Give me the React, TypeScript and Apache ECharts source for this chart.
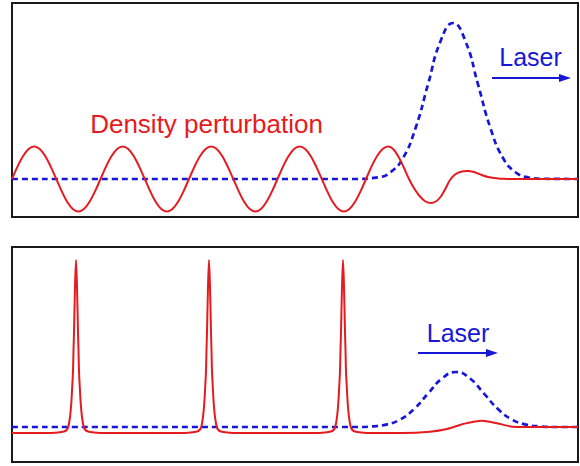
import React, { useEffect, useRef } from "react";
import * as echarts from "echarts";

// x in px from the panel's left border; y in px above the blue (laser) baseline
const X_MAX = 566;

const TOP_RED: [number, number][] = [
  [0, 0], [5.5, 12.4], [11.1, 23], [16.6, 30], [22.1, 32.5], [27.7, 30], [33.2, 23], [38.7, 12.4],
  [44.3, 0], [49.8, -12.4], [55.3, -23], [60.8, -30], [66.4, -32.5], [71.9, -30], [77.4, -23], [83.0, -12.4],
  [88.5, 0], [94.0, 12.4], [99.6, 23], [105.1, 30], [110.6, 32.5], [116.2, 30], [121.7, 23], [127.2, 12.4],
  [132.8, 0], [138.3, -12.4], [143.8, -23], [149.3, -30], [154.9, -32.5], [160.4, -30], [165.9, -23], [171.5, -12.4],
  [177.0, 0], [182.5, 12.4], [188.1, 23], [193.6, 30], [199.1, 32.5], [204.7, 30], [210.2, 23], [215.7, 12.4],
  [221.3, 0], [226.8, -12.4], [232.3, -23], [237.8, -30], [243.4, -32.5], [248.9, -30], [254.4, -23], [260.0, -12.4],
  [265.5, 0], [271.0, 12.4], [276.6, 23], [282.1, 30], [287.6, 32.5], [293.2, 30], [298.7, 23], [304.2, 12.4],
  [309.8, 0], [315.3, -12.4], [320.8, -23], [326.3, -30], [331.9, -32.5], [337.4, -30], [342.9, -23], [348.5, -12.4],
  [354.0, 0], [359.5, 12.4], [365.1, 23], [370.6, 30], [376.1, 32.5],
  [381.4, 29.8], [386.6, 22], [391.8, 11.5], [397, 0], [402.5, -10], [408, -17.5], [413.5, -22.5], [419, -24],
  [423.8, -22.5], [428.5, -18], [433.3, -10], [438, -1], [442.5, 4], [447, 6.6], [451.5, 7.8], [456, 8],
  [461, 7.2], [466, 5.5], [471, 3.5], [476, 2], [482, 0.9], [488, 0.3], [494, 0.1], [500, 0], [566, 0],
];

const TOP_BLUE: [number, number][] = [
  [0, 0], [340, 0], [366, 1.7], [378.5, 6.8], [391, 21], [403.5, 50.7], [416, 94.6], [428.5, 137.7],
  [441, 156], [453.5, 137.7], [466, 94.6], [478.5, 50.7], [491, 21], [503.5, 6.8], [516, 1.7],
  [530, 0.3], [566, 0],
];

const BOTTOM_BLUE: [number, number][] = [
  [0, 0], [346, 0], [360, 0.6], [374, 2.4], [388, 7.4], [402, 17.9], [416, 33.4], [430, 48.5],
  [444, 55], [458, 48.5], [472, 33.4], [486, 17.9], [500, 7.4], [514, 2.4], [528, 0.6], [542, 0], [566, 0],
];

const SPIKE_CENTERS = [64, 197, 331];
const SPIKE_PROFILE: [number, number][] = [
  [-30, -6], [-18, -5.5], [-12, -4.5], [-9, -2.5], [-7.5, 1], [-6, 10], [-5, 20], [-4.5, 27], [-4, 36],
  [-3, 56], [-2.5, 77], [-2, 95], [-1, 140], [0, 167], [1, 140], [2, 95], [2.5, 77], [3, 56], [4, 36],
  [4.5, 27], [5, 20], [6, 10], [7.5, 1], [9, -2.5], [12, -4.5], [18, -5.5], [30, -6],
];
const BOTTOM_RED_START: [number, number][] = [[0, -6]];
const BOTTOM_RED_TAIL: [number, number][] = [
  [390, -6], [418, -4.7], [435, -2], [451, 3], [470, 6.3], [485, 3.7], [501, 0.3], [520, 0], [566, 0],
];

const TEXTS = { density: "Density perturbation", laser: "Laser" };

const RED = "#e51b20";
const BLUE = "#1717d6";
const FONT = "'Liberation Sans', Arial, sans-serif";

function buildBottomRed(): [number, number][] {
  const out: [number, number][] = [...BOTTOM_RED_START];
  SPIKE_CENTERS.forEach((c) => {
    SPIKE_PROFILE.forEach(([dx, v]) => out.push([c + dx, v]));
  });
  return out.concat(BOTTOM_RED_TAIL);
}

function arrow(x0: number, x1: number, y: number) {
  return [
    { type: "line", shape: { x1: x0, y1: y, x2: x1 - 8, y2: y }, style: { stroke: BLUE, lineWidth: 2 } },
    { type: "polygon", shape: { points: [[x1 - 12, y - 4], [x1, y], [x1 - 12, y + 4]] }, style: { fill: BLUE } },
  ];
}

export default function App() {
  const ref = useRef<HTMLDivElement>(null);
  useEffect(() => {
    const chart = echarts.init(ref.current!, null, { renderer: "svg" });
    const gridBase = { show: true, borderColor: "#1a1a1a", borderWidth: 2, backgroundColor: "transparent" };
    chart.setOption({
      animation: false,
      backgroundColor: "#ffffff",
      grid: [
        { ...gridBase, left: 12, top: 3, width: 566, height: 214 },
        { ...gridBase, left: 12, top: 247, width: 566, height: 215 },
      ],
      xAxis: [
        { gridIndex: 0, type: "value", min: 0, max: X_MAX, show: false },
        { gridIndex: 1, type: "value", min: 0, max: X_MAX, show: false },
      ],
      yAxis: [
        { gridIndex: 0, type: "value", min: -38, max: 176, show: false },
        { gridIndex: 1, type: "value", min: -35, max: 180, show: false },
      ],
      series: [
        {
          type: "line", xAxisIndex: 0, yAxisIndex: 0, data: TOP_BLUE, smooth: 0.5, symbol: "none",
          lineStyle: { color: BLUE, width: 2.7, type: [6, 4] },
        },
        {
          type: "line", xAxisIndex: 0, yAxisIndex: 0, data: TOP_RED, smooth: 0.35, symbol: "none",
          lineStyle: { color: RED, width: 2 },
        },
        {
          type: "line", xAxisIndex: 1, yAxisIndex: 1, data: BOTTOM_BLUE, smooth: 0.5, symbol: "none",
          lineStyle: { color: BLUE, width: 2.7, type: [6, 4] },
        },
        {
          type: "line", xAxisIndex: 1, yAxisIndex: 1, data: buildBottomRed(), smooth: 0.3, symbol: "none",
          lineStyle: { color: RED, width: 2 },
        },
      ],
      graphic: [
        {
          type: "text", x: 206.5, y: 124,
          style: { text: TEXTS.density, fill: RED, font: `26px ${FONT}`, align: "center", verticalAlign: "middle" },
        },
        {
          type: "text", x: 530.5, y: 57,
          style: { text: TEXTS.laser, fill: BLUE, font: `25px ${FONT}`, align: "center", verticalAlign: "middle" },
        },
        {
          type: "text", x: 458, y: 333,
          style: { text: TEXTS.laser, fill: BLUE, font: `25px ${FONT}`, align: "center", verticalAlign: "middle" },
        },
        ...arrow(492, 571, 78),
        ...arrow(418, 498, 353),
      ],
    });
    return () => chart.dispose();
  }, []);
  return (
    <div
      ref={ref}
      style={{ position: "fixed", left: 0, top: 0, width: 580, height: 466, background: "#fff" }}
    />
  );
}
